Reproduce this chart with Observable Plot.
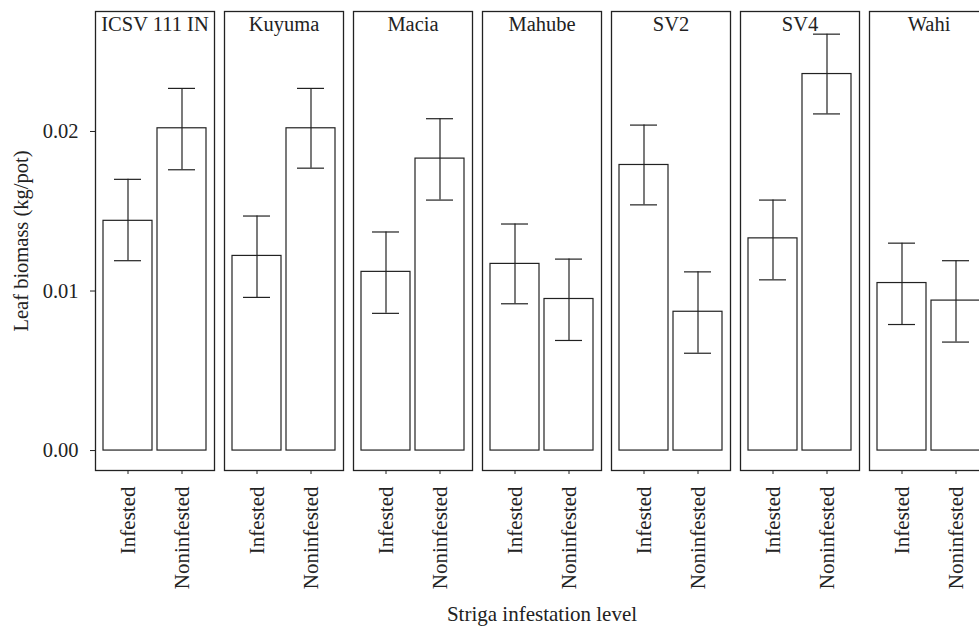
<!DOCTYPE html>
<html>
<head>
<meta charset="utf-8">
<script src="https://cdn.jsdelivr.net/npm/d3@7"></script>
<script src="https://cdn.jsdelivr.net/npm/@observablehq/plot@0.6"></script>
<style>
  html, body { margin: 0; padding: 0; background: white; overflow: hidden; }
</style>
</head>
<body>
<div id="chart"></div>
<script>
const genotypes = ["ICSV 111 IN", "Kuyuma", "Macia", "Mahube", "SV2", "SV4", "Wahi"];
const levels = ["Infested", "Noninfested"];
const infestedMean  = [0.0144, 0.0122, 0.0112, 0.0117, 0.0179, 0.0133, 0.0105];
const infestedLower = [0.0119, 0.0096, 0.0086, 0.0092, 0.0154, 0.0107, 0.0079];
const infestedUpper = [0.0170, 0.0147, 0.0137, 0.0142, 0.0204, 0.0157, 0.0130];
const noninfestedMean  = [0.0202, 0.0202, 0.0183, 0.0095, 0.0087, 0.0236, 0.0094];
const noninfestedLower = [0.0176, 0.0177, 0.0157, 0.0069, 0.0061, 0.0211, 0.0068];
const noninfestedUpper = [0.0227, 0.0227, 0.0208, 0.0120, 0.0112, 0.0261, 0.0119];
const yTicks = [0, 0.01, 0.02];
const xTitle = "Striga infestation level";
const yTitle = "Leaf biomass (kg/pot)";

const rows = [];
genotypes.forEach((g, i) => {
  rows.push({genotype: g, level: levels[0], mean: infestedMean[i], lo: infestedLower[i], hi: infestedUpper[i]});
  rows.push({genotype: g, level: levels[1], mean: noninfestedMean[i], lo: noninfestedLower[i], hi: noninfestedUpper[i]});
});

const ink = "#222";
const chart = Plot.plot({
  width: 990,
  height: 626,
  marginLeft: 94,
  marginRight: 0,
  marginTop: 11,
  marginBottom: 156,
  style: {fontFamily: "'Liberation Serif', 'DejaVu Serif', serif", fontSize: "20px", color: ink, background: "white", maxWidth: "none", overflow: "visible"},
  fx: {domain: genotypes, paddingInner: 0.075, paddingOuter: 0, axis: null, label: null},
  x: {domain: levels, paddingInner: 0.1, paddingOuter: 0.15, label: null, axis: null},
  y: {domain: [-0.00125, 0.02752], label: null, axis: null},
  marks: [
    Plot.frame({stroke: ink, strokeWidth: 1.3}),
    Plot.barY(rows, {fx: "genotype", x: "level", y1: 0, y2: "mean", fill: "white", stroke: ink, strokeWidth: 1.2}),
    Plot.ruleX(rows, {fx: "genotype", x: "level", y1: "lo", y2: "hi", stroke: ink, strokeWidth: 1.2}),
    Plot.tickY(rows, {fx: "genotype", x: "level", y: "lo", stroke: ink, strokeWidth: 1.2, insetLeft: 11, insetRight: 11}),
    Plot.tickY(rows, {fx: "genotype", x: "level", y: "hi", stroke: ink, strokeWidth: 1.2, insetLeft: 11, insetRight: 11}),
    Plot.text(genotypes, {fx: d => d, text: d => d, frameAnchor: "top", lineAnchor: "top", dy: 5, fill: ink, fontSize: 20.5}),
    Plot.axisX({tickRotate: -90, tickSize: 4, tickPadding: 12, fontSize: 21, label: null, stroke: ink, fill: ink}),
    Plot.axisY({ticks: yTicks, tickFormat: ".2f", tickSize: 5, tickPadding: 12, fontSize: 20.5, label: yTitle, labelAnchor: "center", labelOffset: 82, labelArrow: "none", stroke: ink, fill: ink}),
    Plot.axisFx({anchor: "bottom", ticks: [], tickSize: 0, fontSize: 21, label: xTitle, labelAnchor: "center", labelOffset: 150, labelArrow: "none", fill: ink})
  ]
});
document.getElementById("chart").appendChild(chart);
</script>
</body>
</html>
